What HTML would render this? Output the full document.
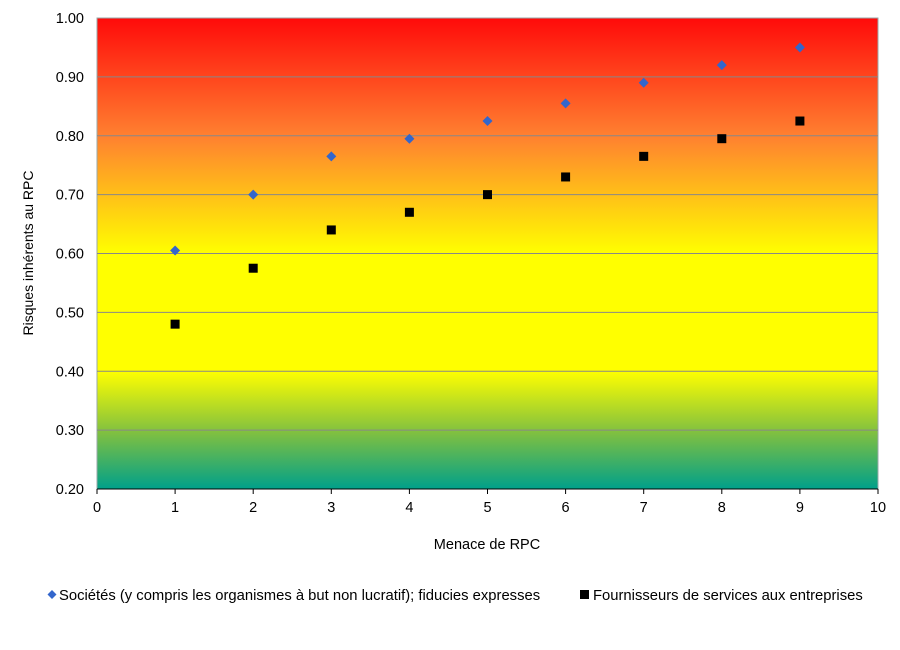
<!DOCTYPE html>
<html><head><meta charset="utf-8"><style>
body{margin:0;background:#fff;width:900px;height:645px;overflow:hidden;font-family:"Liberation Sans",Arial,sans-serif}
</style></head><body>
<svg id="chart" width="900" height="645" xmlns="http://www.w3.org/2000/svg" font-family="Liberation Sans, Arial, sans-serif" font-size="14.5">
<defs>
<linearGradient id="bg" x1="0" y1="0" x2="0" y2="1">
<stop offset="0" stop-color="#ff0a0a"/>
<stop offset="0.25" stop-color="#ff8030"/>
<stop offset="0.5" stop-color="#ffff00"/>
<stop offset="0.75" stop-color="#ffff00"/>
<stop offset="0.88" stop-color="#80c040"/>
<stop offset="1" stop-color="#00a08a"/>
</linearGradient>
</defs>
<rect x="97" y="18" width="781" height="471" fill="url(#bg)" stroke="#9aa" stroke-width="1"/>
<g id="grid"></g><g id="axes"></g><g id="marks"></g>
<text x="487" y="549" text-anchor="middle">Menace de RPC</text>
<text transform="translate(33,253) rotate(-90)" text-anchor="middle" font-size="14">Risques inhérents  au  RPC</text>
<g>
<path d="M52,590 l4.5,4.5 l-4.5,4.5 l-4.5,-4.5z" fill="#3366cc"/>
<text x="59" y="600" font-size="14.8">Sociétés (y compris les organismes à but non lucratif); fiducies expresses</text>
<rect x="580" y="590" width="9" height="9" fill="#000"/>
<text x="593" y="600" font-size="14.8">Fournisseurs de services aux entreprises</text>
</g>
</svg>
<script>
const categories=[1,2,3,4,5,6,7,8,9];
const societes=[0.605,0.70,0.765,0.795,0.825,0.855,0.89,0.92,0.95];
const fournisseurs=[0.48,0.575,0.64,0.67,0.70,0.73,0.765,0.795,0.825];
const yTicks=[0.2,0.3,0.4,0.5,0.6,0.7,0.8,0.9,1.0];
const xTicks=[0,1,2,3,4,5,6,7,8,9,10];
const X0=97,X1=878,Y0=489,Y1=18;
const xs=v=>X0+(v-0)/(10-0)*(X1-X0);
const ys=v=>Y0-(v-0.2)/(1.0-0.2)*(Y0-Y1);
const NS="http://www.w3.org/2000/svg";
function mk(tag,attrs,parent,txt){const e=document.createElementNS(NS,tag);for(const k in attrs)e.setAttribute(k,attrs[k]);if(txt!==undefined)e.textContent=txt;parent.appendChild(e);return e;}
const grid=document.getElementById('grid'),axes=document.getElementById('axes'),marks=document.getElementById('marks');
yTicks.forEach(t=>{
  const y=ys(t);
  if(t>0.2&&t<1.0){const l=mk('line',{x1:X0,x2:X1,y1:y,y2:y,stroke:'#888','stroke-width':1},grid);
  
  }
  const tx=mk('text',{x:X0-13,y:y+5,'text-anchor':'end'},axes,t.toFixed(2));
  
  
});
xTicks.forEach(t=>{
  const x=xs(t);
  const tk=mk('line',{x1:x,x2:x,y1:Y0,y2:Y0+5,stroke:'#000'},axes);
  
  
  const tx=mk('text',{x:x,y:Y0+23,'text-anchor':'middle'},axes,String(t));
  
  
});
const ax=mk('path',{d:`M${X0},${Y0} H${X1}`,fill:'none',stroke:'#000'},axes);


categories.forEach((c,i)=>{
  const x=xs(c),y=ys(societes[i]);
  const d=mk('path',{d:`M${x},${y-5} l5,5 l-5,5 l-5,-5z`,fill:'#3366cc'},marks);
  
  
  const y2=ys(fournisseurs[i]);
  const r=mk('rect',{x:x-4.5,y:y2-4.5,width:9,height:9,fill:'#000'},marks);
  
  
});
</script>
</body></html>
